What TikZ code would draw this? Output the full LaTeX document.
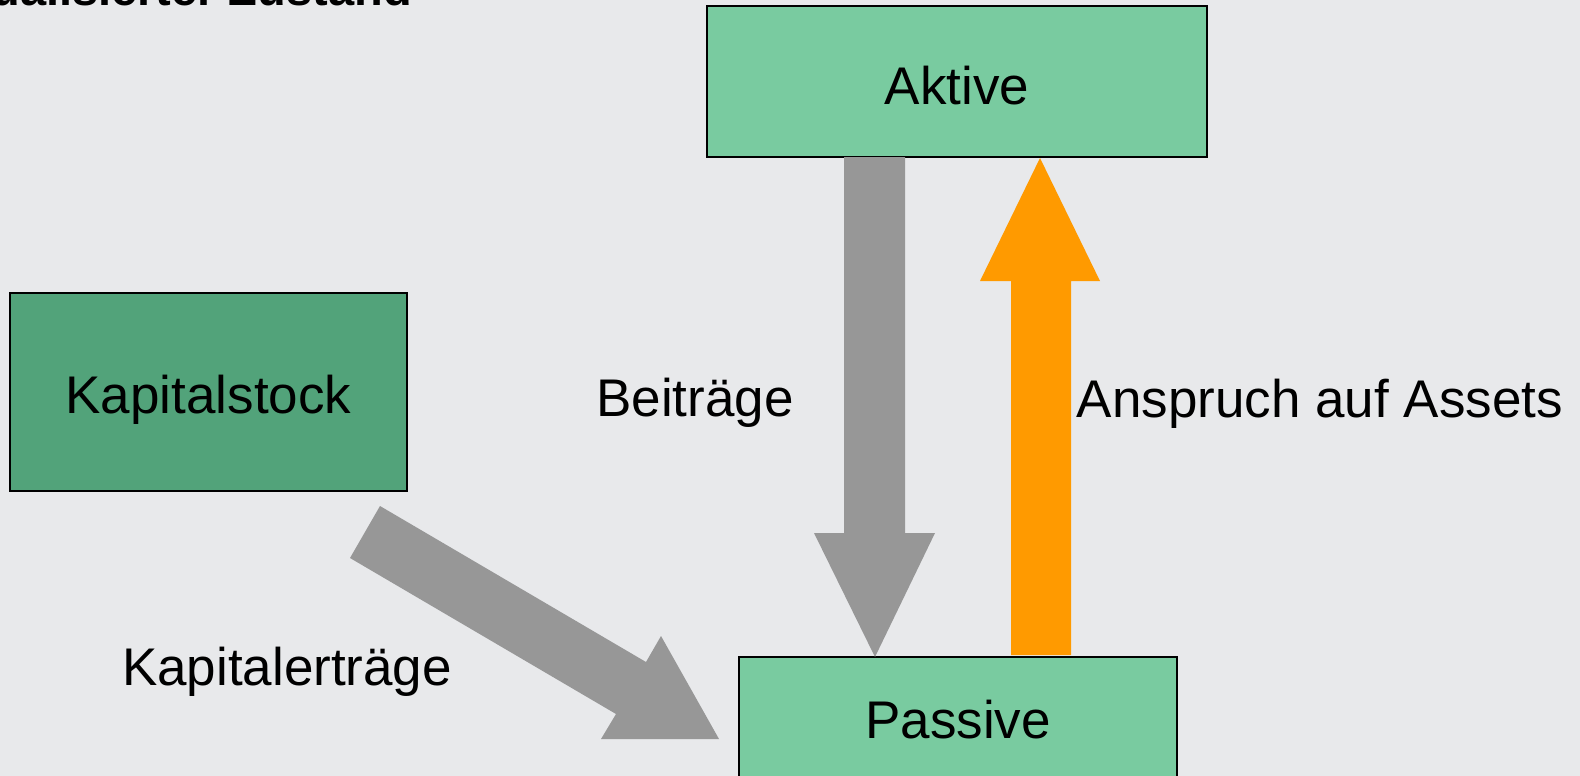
\documentclass[tikz,border=0pt]{standalone}
\usepackage{fontspec}
\setmainfont{Liberation Sans}
\definecolor{bgc}{HTML}{E8E9EB}
\definecolor{lightgreen}{HTML}{79CBA0}
\definecolor{darkgreen}{HTML}{52A37A}
\definecolor{arrowgray}{HTML}{979797}
\definecolor{arroworange}{HTML}{FF9A00}
\tikzset{
  box/.style={draw=black, line width=1.5pt, rectangle, inner sep=0pt,
    text height=38pt, text depth=0pt, font=\fontsize{53}{60}\selectfont},
  lbl/.style={anchor=base, inner sep=0pt, font=\fontsize{53}{60}\selectfont},
  grayarrow/.style={fill=arrowgray, draw=none},
  orangearrow/.style={fill=arroworange, draw=none}
}
\begin{document}
\begin{tikzpicture}[x=1pt, y=-1pt]
\useasboundingbox (0,0) rectangle (1580,776);
\clip (0,0) rectangle (1580,776);
\fill[bgc] (0,0) rectangle (1580,776);

\node[anchor=base east, inner sep=0pt, font=\fontsize{47}{54}\selectfont\bfseries] (title) at (412,6) {Aktualisierter Zustand};

\node[box, fill=lightgreen, minimum width=500pt, minimum height=151pt, text height=46pt] (aktive) at (957,81.5) {Aktive};
\node[box, fill=darkgreen, minimum width=397pt, minimum height=198pt, text height=42pt] (kapital) at (208.5,392) {Kapitalstock};
\node[box, fill=lightgreen, minimum width=438pt, minimum height=124pt] (passive) at (958,719) {Passive};

% gray arrow Aktive -> Passive
\fill[grayarrow] (844,157) -- (905,157) -- (905,533) -- (935,533) -- (875,657) -- (814,533) -- (844,533) -- cycle;
% orange arrow Passive -> Aktive
\fill[orangearrow] (1011,655) -- (1071,655) -- (1071,281) -- (1100,281) -- (1040,158) -- (980,281) -- (1011,281) -- cycle;
% diagonal gray arrow Kapitalstock -> Passive
\fill[grayarrow] (380,506) -- (646,662) -- (661,636) -- (719,739) -- (601,739) -- (616,714) -- (350,558) -- cycle;

\node[lbl] (beitraege) at (695,416) {Beiträge};
\node[lbl] (anspruch) at (1320,417) {Anspruch auf Assets};
\node[lbl] (ertraege) at (287,685) {Kapitalerträge};
\end{tikzpicture}
\end{document}
